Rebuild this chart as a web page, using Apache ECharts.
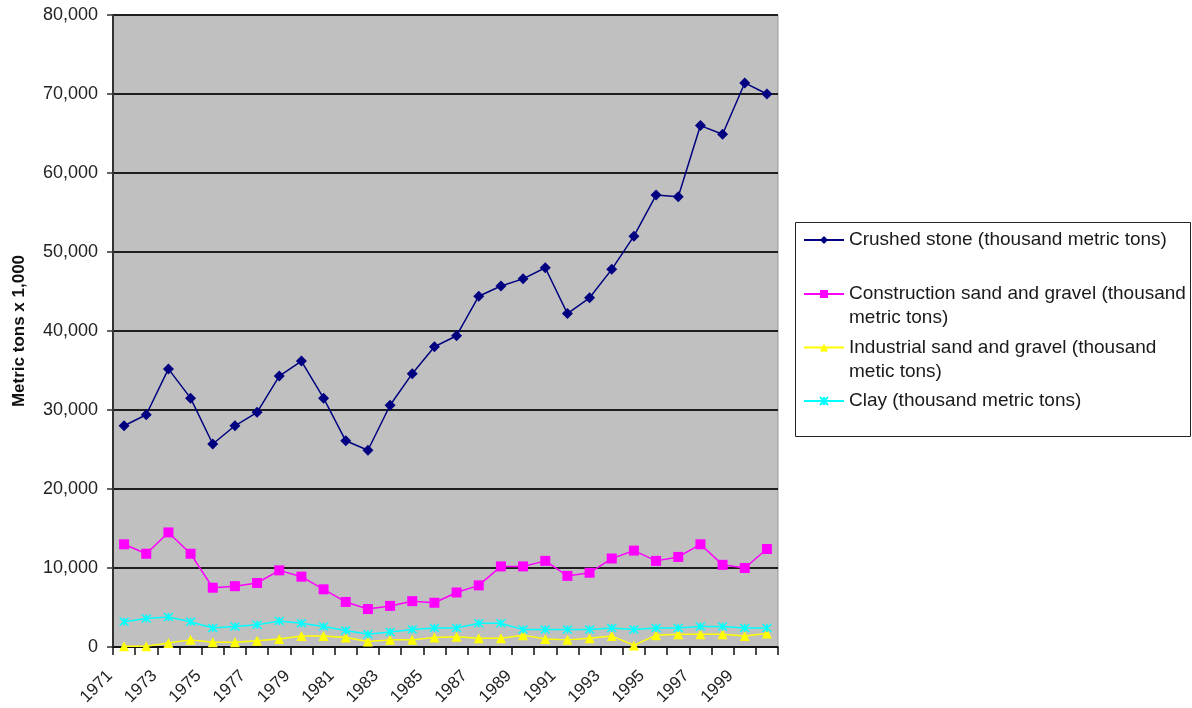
<!DOCTYPE html>
<html>
<head>
<meta charset="utf-8">
<title>Mineral production 1971-2000</title>
<script src="https://cdn.jsdelivr.net/npm/echarts@6/dist/echarts.min.js"></script>
<style>
  html, body { margin: 0; padding: 0; background: #ffffff; }
  #chart { width: 1192px; height: 708px; }
</style>
</head>
<body>
<div id="chart"></div>
<script>
// Years on the category axis
const years = ['1971', '1972', '1973', '1974', '1975', '1976', '1977', '1978', '1979', '1980',
               '1981', '1982', '1983', '1984', '1985', '1986', '1987', '1988', '1989', '1990',
               '1991', '1992', '1993', '1994', '1995', '1996', '1997', '1998', '1999', '2000'];

// Production, thousand metric tons
const crushedStone = [28000, 29400, 35200, 31500, 25700, 28000, 29700, 34300, 36200, 31500,
                      26100, 24900, 30600, 34600, 38000, 39400, 44400, 45700, 46600, 48000,
                      42200, 44200, 47800, 52000, 57200, 57000, 66000, 64900, 71400, 70000];
const constructionSand = [13000, 11800, 14500, 11800, 7500, 7700, 8100, 9700, 8900, 7300,
                          5700, 4800, 5200, 5800, 5600, 6900, 7800, 10200, 10200, 10900,
                          9000, 9400, 11200, 12200, 10900, 11400, 13000, 10400, 10000, 12400];
const industrialSand = [100, 100, 500, 900, 600, 600, 800, 1000, 1400, 1400,
                        1200, 700, 900, 900, 1200, 1300, 1100, 1100, 1500, 1000,
                        900, 1100, 1400, 200, 1500, 1600, 1600, 1600, 1400, 1700];
const clay = [3200, 3600, 3800, 3200, 2400, 2600, 2800, 3300, 3000, 2600,
              2100, 1600, 1900, 2200, 2400, 2400, 3000, 3000, 2200, 2200,
              2200, 2200, 2400, 2200, 2400, 2400, 2600, 2600, 2400, 2400];

const seriesNames = [
  'Crushed stone (thousand metric tons)',
  'Construction sand and gravel (thousand\nmetric tons)',
  'Industrial sand and gravel (thousand\nmetic tons)',
  'Clay (thousand metric tons)'
];

const FONT = '"Liberation Sans", Arial, sans-serif';
const chart = echarts.init(document.getElementById('chart'), null, { renderer: 'canvas' });

// One legend block per entry; two-line labels get an empty leading line so the
// marker sits beside the first line of text
function legendBlock(name, top, twoLine) {
  return {
    orient: 'vertical',
    left: 803,
    top: top,
    padding: 0,
    itemWidth: 40,
    itemHeight: 10,
    selectedMode: false,
    data: [name],
    formatter: twoLine ? (n => '\n' + n) : (n => n),
    textStyle: { fontFamily: FONT, fontSize: 19, lineHeight: 24, color: '#1a1a1a' }
  };
}

const crossPath = 'path://M0,0L10,10M10,0L0,10M5,0L5,10';

chart.setOption({
  animation: false,
  backgroundColor: '#ffffff',
  grid: {
    left: 113, right: 414, top: 15, bottom: 60,
    show: true, backgroundColor: '#c0c0c0', borderColor: '#9a9a9a', borderWidth: 1
  },
  graphic: [{
    type: 'rect',
    left: 795, top: 222, z: 0,
    shape: { width: 395, height: 214 },
    style: { fill: '#ffffff', stroke: '#222222', lineWidth: 1 }
  }],
  legend: [
    legendBlock(seriesNames[0], 228, false),
    legendBlock(seriesNames[1], 258, true),
    legendBlock(seriesNames[2], 311.5, true),
    legendBlock(seriesNames[3], 389, false)
  ],
  xAxis: {
    type: 'category',
    data: years,
    boundaryGap: true,
    axisLine: { lineStyle: { color: '#111', width: 1.5 } },
    axisTick: { show: true, interval: 0, length: 8, lineStyle: { color: '#111', width: 1.5 } },
    axisLabel: {
      interval: 1, rotate: 45, margin: 12, padding: [0, 20, 0, 0],
      fontFamily: FONT, fontSize: 17, color: '#222'
    },
    splitLine: { show: false }
  },
  yAxis: {
    type: 'value',
    min: 0, max: 80000, interval: 10000,
    name: 'Metric tons x 1,000',
    nameLocation: 'middle',
    nameGap: 85,
    nameRotate: 90,
    nameTextStyle: {
      fontFamily: FONT, fontWeight: 'bold', fontSize: 17, color: '#111'
    },
    axisLine: { show: true, lineStyle: { color: '#333', width: 2 } },
    axisTick: { show: true, length: 6, lineStyle: { color: '#333', width: 1.5 } },
    axisLabel: {
      margin: 15, fontFamily: FONT, fontSize: 18, color: '#222',
      formatter: v => v.toLocaleString('en-US')
    },
    splitLine: { show: true, lineStyle: { color: '#1e1e1e', width: 2 } }
  },
  series: [
    {
      name: seriesNames[0], type: 'line', data: crushedStone,
      symbol: 'diamond', symbolSize: 11, showAllSymbol: true,
      lineStyle: { color: '#000080', width: 1.5 },
      itemStyle: { color: '#000080' }
    },
    {
      name: seriesNames[1], type: 'line', data: constructionSand,
      symbol: 'rect', symbolSize: 10, showAllSymbol: true,
      lineStyle: { color: '#ff00ff', width: 1.5 },
      itemStyle: { color: '#ff00ff' }
    },
    {
      name: seriesNames[2], type: 'line', data: industrialSand,
      symbol: 'triangle', symbolSize: 10, showAllSymbol: true,
      lineStyle: { color: '#ffff00', width: 1.5 },
      itemStyle: { color: '#ffff00' }
    },
    {
      name: seriesNames[3], type: 'line', data: clay,
      symbol: crossPath, symbolSize: [9, 8], showAllSymbol: true,
      lineStyle: { color: '#00ffff', width: 1.5 },
      itemStyle: { color: '#00ffff', borderColor: '#00ffff', borderWidth: 1.5 }
    }
  ]
});
</script>
</body>
</html>
